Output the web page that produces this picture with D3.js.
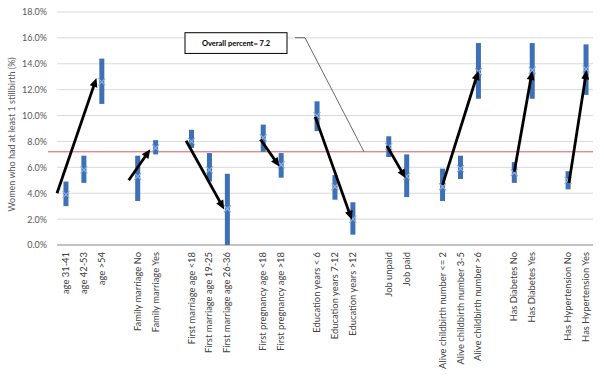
<!DOCTYPE html>
<html>
<head>
<meta charset="utf-8">
<script src="https://cdn.jsdelivr.net/npm/d3@7"></script>
<style>
  body { margin: 0; background: #fff; }
  text { font-family: Lato, "Open Sans", sans-serif; }
</style>
</head>
<body>
<div id="chart"></div>
<script>
// categories, with the group each belongs to (an empty slot separates groups)
const categories = [
  "age 31-41", "age 42-53", "age >54",
  "Family marriage No", "Family marriage Yes",
  "First marriage age  <18", "First marriage age 19-25", "First marriage age 26-36",
  "First pregnancy age  <18", "First pregnancy age >18",
  "Education years < 6", "Education years 7-12", "Education years >12",
  "Job unpaid", "Job paid",
  "Alive childbirth number <= 2", "Alive childbirth number 3-5", "Alive childbirth number >6",
  "Has Diabetes No", "Has Diabetes Yes",
  "Has Hypertension No", "Has Hypertension Yes"
];
const groupOf = [0,0,0, 1,1, 2,2,2, 3,3, 4,4,4, 5,5, 6,6,6, 7,7, 8,8];

// percent estimates and 95% CI
const estimate = [3.9, 5.8, 12.6, 5.3, 7.5, 8.0, 5.8, 2.8, 8.3, 6.2, 10.0, 4.5, 2.0, 7.6, 5.3, 4.5, 5.9, 13.4, 5.6, 13.5, 5.0, 13.6];
const lower    = [3.0, 4.8, 10.9, 3.4, 7.0, 7.5, 4.9, 0.0, 7.2, 5.2, 8.8, 3.5, 0.8, 6.8, 3.7, 3.4, 5.1, 11.3, 4.8, 11.3, 4.3, 11.6];
const upper    = [4.9, 6.9, 14.4, 6.9, 8.1, 8.9, 7.1, 5.5, 9.3, 7.1, 11.1, 5.4, 3.3, 8.4, 7.0, 5.9, 6.9, 15.6, 6.4, 15.6, 5.7, 15.5];

const overall = 7.2;
const yTicks = [0, 2, 4, 6, 8, 10, 12, 14, 16, 18];

// trend arrows: first -> last category of each group
const arrowFrom = [0, 3, 5, 8, 10, 13, 15, 18, 20];
const arrowTo   = [2, 4, 7, 9, 12, 14, 17, 19, 21];
const arrowFromValue = [4.0, 5.0, 8.05, 8.15, 9.9, 7.65, 4.65, 5.65, 4.8];
const arrowToValue   = [12.9, 7.4, 2.75, 6.05, 1.95, 5.15, 13.45, 13.45, 13.5];

const W = 604, H = 385;
const plotL = 57, plotR = 595, plotT = 12, plotB = 245;

const svg = d3.select("#chart").append("svg")
  .attr("width", W).attr("height", H);

const slots = categories.map((c, i) => i + groupOf[i]);
const x = d3.scaleBand()
  .domain(d3.range(slots[slots.length - 1] + 1))
  .range([plotL, plotR]);
const cx = i => x(slots[i]) + x.bandwidth() / 2;

const y = d3.scaleLinear().domain([0, 18]).range([plotB, plotT]);

// gridlines
svg.append("g")
  .selectAll("line")
  .data(yTicks.slice(1))
  .join("line")
  .attr("x1", plotL).attr("x2", plotR - 2)
  .attr("y1", d => y(d)).attr("y2", d => y(d))
  .attr("stroke", "#d9d9d9").attr("stroke-width", 1);

// y axis labels
const yAxis = svg.append("g")
  .attr("transform", `translate(${plotL - 7},0)`)
  .call(d3.axisLeft(y).tickValues(yTicks).tickFormat(d => d.toFixed(1) + "%").tickSize(0));
yAxis.select(".domain").remove();
yAxis.selectAll("text")
  .attr("fill", "#595959")
  .style("font-size", "9px")
  .style("font-family", "Lato, sans-serif");

// y title
svg.append("text")
  .attr("transform", `translate(15,${(plotT + plotB) / 2 + 6}) rotate(-90)`)
  .attr("text-anchor", "middle")
  .attr("fill", "#595959")
  .style("font-size", "9px")
  .text("Women who had at least 1 stillbirth (%)");

// baseline
svg.append("line")
  .attr("x1", plotL).attr("x2", plotR - 2)
  .attr("y1", y(0)).attr("y2", y(0))
  .attr("stroke", "#868686").attr("stroke-width", 1.2);

// category labels
svg.append("g")
  .selectAll("text")
  .data(categories)
  .join("text")
  .attr("transform", (d, i) => `translate(${cx(i) + 3},${plotB + 7}) rotate(-90)`)
  .attr("text-anchor", "end")
  .attr("fill", "#404040")
  .style("font-size", "9.4px")
  .text(d => d);

// overall line
svg.append("line")
  .attr("x1", plotL - 9).attr("x2", plotR - 2)
  .attr("y1", y(overall)).attr("y2", y(overall))
  .attr("stroke", "#e0585f").attr("stroke-width", 1);

// CI bars
svg.append("g")
  .selectAll("rect")
  .data(categories)
  .join("rect")
  .attr("x", (d, i) => cx(i) - 2.5)
  .attr("width", 5)
  .attr("y", (d, i) => y(upper[i]))
  .attr("height", (d, i) => y(lower[i]) - y(upper[i]))
  .attr("fill", "#3d70b5");

// x markers
const mk = svg.append("g")
  .selectAll("g")
  .data(categories)
  .join("g")
  .attr("transform", (d, i) => `translate(${cx(i)},${y(estimate[i])})`);
mk.append("path")
  .attr("d", "M-3.5,-3.5L3.5,3.5M-3.5,3.5L3.5,-3.5")
  .attr("stroke", "#8fb1de").attr("stroke-width", 1.1);

// annotation box + leader
const box = { x: 185, y: y(16.4), w: 102, h: y(14.8) - y(16.4) };
svg.append("rect")
  .attr("x", box.x).attr("y", box.y)
  .attr("width", box.w).attr("height", box.h)
  .attr("fill", "#fff").attr("stroke", "#000").attr("stroke-width", 1);
svg.append("text")
  .attr("x", box.x + box.w / 2).attr("y", box.y + box.h / 2 + 3)
  .attr("text-anchor", "middle")
  .style("font-size", "7.5px").style("font-weight", "bold")
  .text("Overall percent= " + overall);
svg.append("path")
  .attr("d", `M${box.x + box.w + 8},${box.y + 5}H${box.x + box.w + 18}L364,${y(overall)}`)
  .attr("fill", "none").attr("stroke", "#444").attr("stroke-width", 0.8);

// arrows (hand placed in the original, slightly left of the bars)
const arrowNudge = [-0.5, -0.5, -0.3, -0.15, -0.1, -0.1, 0, 0, 0.05];
const headLen = 9, headHalf = 4;
arrowFrom.forEach((f, k) => {
  const t = arrowTo[k];
  const x1 = cx(f) + arrowNudge[k] * x.bandwidth(), y1 = y(arrowFromValue[k]);
  const x2 = cx(t) + arrowNudge[k] * x.bandwidth() * 0.6, y2 = y(arrowToValue[k]);
  const dx = x2 - x1, dy = y2 - y1, len = Math.hypot(dx, dy);
  const ux = dx / len, uy = dy / len;
  const bx = x2 - ux * headLen, by = y2 - uy * headLen;
  svg.append("line")
    .attr("x1", x1).attr("y1", y1).attr("x2", bx + ux).attr("y2", by + uy)
    .attr("stroke", "#000").attr("stroke-width", 2.8);
  svg.append("path")
    .attr("d", `M${x2},${y2}L${bx - uy * headHalf},${by + ux * headHalf}L${bx + uy * headHalf},${by - ux * headHalf}Z`)
    .attr("fill", "#000");
});
</script>
</body>
</html>
